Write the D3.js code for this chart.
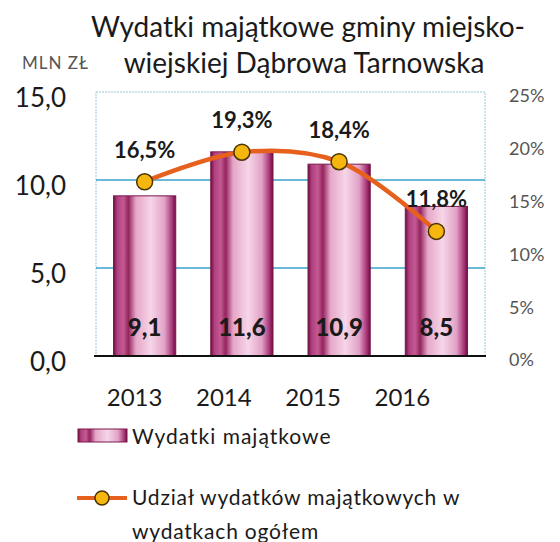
<!DOCTYPE html>
<html>
<head>
<meta charset="utf-8">
<script src="https://cdn.jsdelivr.net/npm/d3@7"></script>
<style>
  body { margin: 0; background: #fff; }
  text { font-family: Lato, "Open Sans", sans-serif; }
</style>
</head>
<body>
<script>
// chart data
var years = ["2013", "2014", "2015", "2016"];
var wydatki = [9.1, 11.6, 10.9, 8.5];
var udzial = [16.5, 19.3, 18.4, 11.8];
var leftTicks = [0, 5, 10, 15];
var rightTicks = [0, 5, 10, 15, 20, 25];

var width = 560, height = 542;
var plot = { left: 96, right: 485, top: 92, bottom: 356 };

var svg = d3.select("body").append("svg")
    .attr("width", width)
    .attr("height", height);

var defs = svg.append("defs");
var grad = defs.append("linearGradient")
    .attr("id", "barGrad")
    .attr("x1", "0%").attr("x2", "100%").attr("y1", "0%").attr("y2", "0%");
[[0, "#6e0c40"], [0.06, "#b04080"], [0.16, "#c45a92"], [0.24, "#94245e"],
 [0.36, "#e6a6c8"], [0.6, "#f6d6e8"], [0.82, "#e2a2c6"], [0.94, "#a8377a"], [1, "#6e0c40"]]
  .forEach(function(s) {
    grad.append("stop").attr("offset", s[0]).attr("stop-color", s[1]);
  });

var x = d3.scaleBand()
    .domain(years)
    .range([plot.left, plot.right])
    .paddingInner(0.36)
    .paddingOuter(0.18);

var y = d3.scaleLinear().domain([0, 15]).range([plot.bottom, plot.top]);
var y2 = d3.scaleLinear().domain([0, 25]).range([plot.bottom, plot.top]);

// title
svg.append("text")
    .attr("x", 308).attr("y", 37)
    .attr("text-anchor", "middle")
    .attr("font-size", 28)
    .attr("fill", "#1a1a1a")
    .text("Wydatki majątkowe gminy miejsko-");
svg.append("text")
    .attr("x", 304).attr("y", 73)
    .attr("text-anchor", "middle")
    .attr("font-size", 28)
    .attr("fill", "#1a1a1a")
    .text("wiejskiej Dąbrowa Tarnowska");
svg.append("text")
    .attr("x", 22).attr("y", 69)
    .attr("font-size", 17)
    .attr("fill", "#555")
    .style("letter-spacing", "1px")
    .text("MLN  ZŁ");

// plot border
svg.append("rect")
    .attr("x", plot.left).attr("y", plot.top)
    .attr("width", plot.right - plot.left)
    .attr("height", plot.bottom - plot.top)
    .attr("fill", "none")
    .attr("stroke", "#9cc8d8")
    .attr("stroke-dasharray", "2,1");

// gridlines
svg.append("g").selectAll("line")
    .data([5, 10])
    .enter().append("line")
      .attr("x1", plot.left).attr("x2", plot.right)
      .attr("y1", function(d) { return y(d); })
      .attr("y2", function(d) { return y(d); })
      .attr("stroke", "#3aa2cc")
      .attr("stroke-width", 1.6);

// left axis
var leftAxis = svg.append("g")
    .attr("transform", "translate(66,0)")
    .call(d3.axisLeft(y).tickValues(leftTicks).tickSize(0).tickPadding(0)
      .tickFormat(function(d) { return d3.format(".1f")(d).replace(".", ","); }));
leftAxis.select(".domain").remove();
leftAxis.selectAll("text")
    .attr("font-size", 26)
    .attr("fill", "#1a1a1a")
    .attr("dy", "0.55em")
    .style("font-family", "Lato, sans-serif");

// right axis
var rightAxis = svg.append("g")
    .attr("transform", "translate(509,0)")
    .call(d3.axisRight(y2).tickValues(rightTicks).tickSize(0).tickPadding(0)
      .tickFormat(function(d) { return d + "%"; }));
rightAxis.select(".domain").remove();
rightAxis.selectAll("text")
    .attr("font-size", 18)
    .attr("fill", "#555")
    .attr("dy", "0.55em")
    .style("font-family", "Lato, sans-serif");

// bars
svg.append("g").selectAll("rect")
    .data(wydatki)
    .enter().append("rect")
      .attr("x", function(d, i) { return x(years[i]); })
      .attr("y", function(d) { return y(d); })
      .attr("width", x.bandwidth())
      .attr("height", function(d) { return y(0) - y(d); })
      .attr("fill", "url(#barGrad)")
      .attr("stroke", "#7a1a4c")
      .attr("stroke-width", 1);

// baseline
svg.append("line")
    .attr("x1", plot.left - 2).attr("x2", plot.right + 1)
    .attr("y1", y(0)).attr("y2", y(0))
    .attr("stroke", "#111")
    .attr("stroke-width", 2);

// bar value labels
svg.append("g").selectAll("text")
    .data(wydatki)
    .enter().append("text")
      .attr("x", function(d, i) { return x(years[i]) + x.bandwidth() / 2; })
      .attr("y", y(0) - 20)
      .attr("text-anchor", "middle")
      .attr("font-size", 24)
      .attr("font-weight", "900")
      .attr("fill", "#1a1a1a")
      .text(function(d) { return String(d).replace(".", ","); });

// x labels
var xAxis = svg.append("g")
    .attr("transform", "translate(0," + (y(0) + 31) + ")")
    .call(d3.axisBottom(x).tickSize(0).tickPadding(0));
xAxis.select(".domain").remove();
xAxis.selectAll("text")
    .attr("font-size", 24)
    .attr("fill", "#1a1a1a")
    .attr("dy", "0.8em")
    .attr("dx", function(d, i) { return -10 - i * 8; })
    .style("font-family", "Lato, sans-serif");

// line
var cx = function(d, i) { return x(years[i]) + x.bandwidth() / 2; };
var line = d3.line()
    .x(cx)
    .y(function(d) { return y2(d); })
    .curve(d3.curveCatmullRom.alpha(0.5));

svg.append("path")
    .datum(udzial)
    .attr("d", line)
    .attr("fill", "none")
    .attr("stroke", "#e6601e")
    .attr("stroke-width", 4.5);

svg.append("g").selectAll("circle")
    .data(udzial)
    .enter().append("circle")
      .attr("cx", cx)
      .attr("cy", function(d) { return y2(d); })
      .attr("r", 8)
      .attr("fill", "#f5b70f")
      .attr("stroke", "#4a3300")
      .attr("stroke-width", 1.5);

svg.append("g").selectAll("text")
    .data(udzial)
    .enter().append("text")
      .attr("x", cx)
      .attr("y", function(d) { return y2(d) - 24; })
      .attr("text-anchor", "middle")
      .attr("font-size", 22)
      .attr("font-weight", "bold")
      .attr("fill", "#1a1a1a")
      .text(function(d) { return d3.format(".1f")(d).replace(".", ",") + "%"; });

// legend
var legend = svg.append("g");
legend.append("rect")
    .attr("x", 78).attr("y", 429)
    .attr("width", 49).attr("height", 13)
    .attr("fill", "url(#barGrad)")
    .attr("stroke", "#7a1a4c");
legend.append("text")
    .attr("x", 132).attr("y", 444)
    .attr("font-size", 21)
    .attr("fill", "#1a1a1a")
    .style("letter-spacing", "1px")
    .text("Wydatki majątkowe");

legend.append("line")
    .attr("x1", 77).attr("x2", 127)
    .attr("y1", 498).attr("y2", 498)
    .attr("stroke", "#e6601e")
    .attr("stroke-width", 4);
legend.append("circle")
    .attr("cx", 102).attr("cy", 498).attr("r", 7)
    .attr("fill", "#f5b70f")
    .attr("stroke", "#4a3300")
    .attr("stroke-width", 1.5);
legend.append("text")
    .attr("x", 132).attr("y", 505)
    .attr("font-size", 21)
    .attr("fill", "#1a1a1a")
    .style("letter-spacing", "0.8px")
    .text("Udział wydatków majątkowych w");
legend.append("text")
    .attr("x", 132).attr("y", 539)
    .attr("font-size", 21)
    .attr("fill", "#1a1a1a")
    .style("letter-spacing", "0.8px")
    .text("wydatkach ogółem");
</script>
</body>
</html>
